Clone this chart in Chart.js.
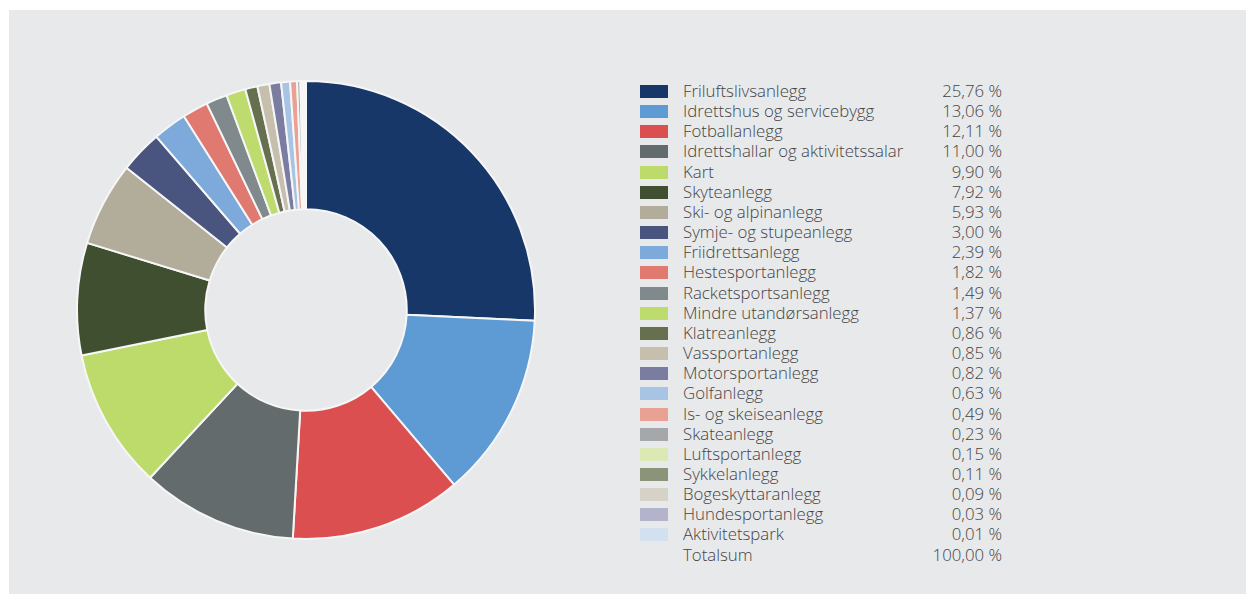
<!DOCTYPE html>
<html lang="no">
<head>
<meta charset="utf-8">
<title>Anleggstypar – del av tilskot</title>
<script src="https://cdn.jsdelivr.net/npm/chart.js@4/dist/chart.umd.min.js"></script>
<style>
  html, body { margin: 0; padding: 0; background: #ffffff; }
  body { width: 1246px; height: 594px; position: relative; overflow: hidden; font-family: "Open Sans", "Noto Sans", sans-serif; }
  #panel { position: absolute; left: 9px; top: 10px; width: 1237px; height: 584px; background: #e8e9eb; }
  #chartBox { position: absolute; left: 67px; top: 70px; width: 460px; height: 460px; }
  #legend { position: absolute; left: 631px; top: 71px; width: 362px; }
  .row { position: relative; height: 20.17px; line-height: 20.17px; font-size: 16.8px; color: #444444; font-weight: 300; white-space: nowrap; }
  .sw { position: absolute; left: 0; top: 4px; width: 28px; height: 13px; }
  .lab { position: absolute; left: 43px; top: 0; }
  .val { position: absolute; right: 0; top: 0; }
</style>
</head>
<body>
<div id="panel">
  <div id="chartBox"><canvas id="donut"></canvas></div>
  <div id="legend"></div>
</div>
<script>
// Anleggskategoriar og prosentdel
const categories = [
  "Friluftslivsanlegg", "Idrettshus og servicebygg", "Fotballanlegg",
  "Idrettshallar og aktivitetssalar", "Kart", "Skyteanlegg",
  "Ski- og alpinanlegg", "Symje- og stupeanlegg", "Friidrettsanlegg",
  "Hestesportanlegg", "Racketsportsanlegg", "Mindre utandørsanlegg",
  "Klatreanlegg", "Vassportanlegg", "Motorsportanlegg", "Golfanlegg",
  "Is- og skeiseanlegg", "Skateanlegg", "Luftsportanlegg", "Sykkelanlegg",
  "Bogeskyttaranlegg", "Hundesportanlegg", "Aktivitetspark"
];
const shares = [
  25.76, 13.06, 12.11, 11.00, 9.90, 7.92, 5.93, 3.00, 2.39, 1.82, 1.49, 1.37,
  0.86, 0.85, 0.82, 0.63, 0.49, 0.23, 0.15, 0.11, 0.09, 0.03, 0.01
];
const colors = [
  "#163767", "#5e9bd4", "#db4f51", "#636b6d", "#bddb6b", "#404f30",
  "#b2ad9b", "#49547f", "#7ea9db", "#e07a70", "#808a8d", "#bedb6e",
  "#66704f", "#c6bfad", "#7a7d9f", "#a8c4e5", "#e9a193", "#a5a8aa",
  "#dce9b5", "#8b9479", "#d6d2c7", "#b3b3cb", "#d3e0f0"
];
const totalLabel = "Totalsum";
const totalShare = 100.00;

const fmt = v => v.toFixed(2).replace(".", ",") + " %";

// Legend built from the same arrays
const legend = document.getElementById("legend");
categories.forEach((name, i) => {
  const row = document.createElement("div");
  row.className = "row";
  row.innerHTML = '<span class="sw" style="background:' + colors[i] + '"></span>' +
    '<span class="lab"></span><span class="val"></span>';
  row.querySelector(".lab").textContent = name;
  row.querySelector(".val").textContent = fmt(shares[i]);
  legend.appendChild(row);
});
const totalRow = document.createElement("div");
totalRow.className = "row";
totalRow.innerHTML = '<span class="lab"></span><span class="val"></span>';
totalRow.querySelector(".lab").textContent = totalLabel;
totalRow.querySelector(".val").textContent = fmt(totalShare);
legend.appendChild(totalRow);

new Chart(document.getElementById("donut"), {
  type: "doughnut",
  data: {
    labels: categories,
    datasets: [{
      data: shares,
      backgroundColor: colors,
      borderColor: "#f6f6f6",
      borderWidth: 2
    }]
  },
  options: {
    responsive: true,
    maintainAspectRatio: false,
    animation: false,
    cutout: "44%",
    layout: { padding: 0 },
    plugins: {
      legend: { display: false },
      tooltip: { enabled: false }
    }
  }
});
</script>
</body>
</html>
